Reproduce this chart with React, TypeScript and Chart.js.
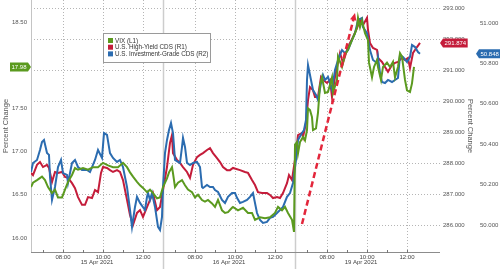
import React, { useEffect, useRef } from 'react';
import { Chart, registerables } from 'chart.js';

Chart.register(...registerables);

const FONT = "'Liberation Sans', Arial, sans-serif";
const GREEN = '#5b9a1f';
const RED = '#c41c3a';
const BLUE = '#2b6cb0';
const ARROW_RED = '#e3263b';

// Session clock: minutes of trading time since the start of the 15 Apr session
const dayLabels = ['15 Apr 2021', '16 Apr 2021', '19 Apr 2021'];
const dayStarts = [0, 396, 792];
const dayLength = 396;
const majorHourOffsets = [96, 216, 336];
const majorHourLabels = ['08:00', '10:00', '12:00'];
const minorHourOffsets = [36, 156, 276];

const legendLabels = ['VIX (L1)', 'U.S. High-Yield CDS (R1)', 'U.S. Investment-Grade CDS (R2)'];

const l1Range = [15.838, 18.755];
const r1Range = [285.129, 293.258];
const r2Range = [49.866, 51.114];

const vixTimes = [
  0, 6, 18, 33, 42, 51, 63, 72, 81, 93,
  102, 111, 123, 132, 141, 156, 171, 186, 201, 216,
  231, 246, 261, 276, 288, 297, 306, 318, 327, 336,
  348, 357, 366, 378, 387, 396, 408, 414, 423, 426,
  432, 441, 453, 462, 471, 483, 492, 501, 513, 522,
  531, 543, 552, 561, 573, 582, 591, 603, 606, 621,
  636, 651, 663, 672, 687, 702, 717, 732, 741, 753,
  762, 771, 783, 789, 792, 798, 801, 807, 816, 822,
  828, 831, 837, 843, 846, 855, 861, 867, 873, 882,
  891, 903, 906, 918, 921, 933, 942, 951, 963, 972,
  978, 981, 987, 993, 1002, 1011, 1014, 1023, 1029, 1038,
  1041, 1050, 1056, 1068, 1077, 1086, 1092, 1101, 1107, 1113,
  1122, 1128, 1137, 1143, 1149,
];
const vixValues = [
  16.59, 16.64, 16.67, 16.71, 16.67, 16.59, 16.52, 16.56, 16.47, 16.47,
  16.56, 16.65, 16.73, 16.81, 16.79, 16.81, 16.79, 16.82, 16.82, 16.87,
  16.84, 16.82, 16.82, 16.87, 16.82, 16.76, 16.71, 16.65, 16.61, 16.58,
  16.53, 16.56, 16.52, 16.46, 16.47, 16.59, 16.69, 16.76, 16.82, 16.75,
  16.59, 16.64, 16.67, 16.61, 16.56, 16.53, 16.47, 16.50, 16.44, 16.42,
  16.44, 16.40, 16.36, 16.44, 16.32, 16.29, 16.30, 16.35, 16.36, 16.32,
  16.35, 16.29, 16.29, 16.21, 16.24, 16.23, 16.24, 16.29, 16.36, 16.32,
  16.36, 16.29, 16.21, 16.07, 17.08, 17.11, 16.98, 17.11, 17.17, 17.13,
  17.25, 17.50, 17.48, 17.40, 17.25, 17.27, 17.45, 17.77, 17.86, 17.68,
  17.69, 17.86, 17.68, 17.83, 18.10, 17.98, 18.12, 18.18, 18.29, 18.37,
  18.44, 18.55, 18.44, 18.52, 18.37, 18.29, 18.03, 17.86, 17.98, 18.06,
  17.98, 17.83, 17.98, 18.03, 17.98, 18.04, 17.86, 17.98, 18.14, 18.10,
  17.83, 17.71, 17.69, 17.79, 17.98,
];

const hyTimes = [
  0, 6, 18, 27, 36, 48, 54, 63, 72, 81,
  93, 102, 111, 123, 132, 141, 153, 162, 171, 183,
  192, 201, 210, 216, 228, 237, 246, 258, 267, 276,
  288, 297, 306, 318, 327, 336, 348, 357, 366, 378,
  387, 396, 408, 417, 423, 426, 438, 447, 456, 468,
  477, 486, 498, 507, 516, 528, 537, 546, 558, 567,
  576, 588, 597, 606, 627, 642, 651, 663, 672, 681,
  693, 708, 717, 726, 738, 747, 756, 768, 774, 783,
  786, 795, 801, 813, 816, 825, 831, 837, 846, 852,
  861, 870, 876, 888, 897, 903, 912, 927, 936, 948,
  957, 966, 978, 987, 996, 1008, 1011, 1017, 1026, 1038,
  1041, 1053, 1062, 1071, 1083, 1092, 1101, 1113, 1122, 1131,
  1137, 1146, 1158, 1167,
];
const hyValues = [
  287.68, 287.61, 287.94, 288.03, 287.87, 287.94, 287.84, 287.39, 287.71, 287.68,
  287.71, 287.55, 287.52, 287.35, 287.19, 286.90, 286.65, 286.65, 286.90, 286.87,
  287.13, 287.06, 287.68, 287.87, 287.84, 287.77, 287.71, 287.77, 287.71, 287.45,
  286.81, 286.32, 286.00, 286.39, 286.48, 286.26, 286.58, 286.81, 287.03, 286.48,
  286.58, 287.13, 287.87, 288.65, 288.90, 288.32, 288.10, 288.00, 287.87, 287.71,
  287.52, 287.94, 288.19, 288.26, 288.32, 288.42, 288.48, 288.32, 288.16, 288.03,
  287.87, 287.77, 287.77, 287.84, 287.77, 287.71, 287.68, 287.45, 287.29, 287.06,
  287.03, 287.03, 286.97, 286.87, 286.90, 286.87, 287.03, 287.35, 287.61, 287.45,
  287.68, 288.32, 288.90, 288.97, 288.84, 289.29, 290.03, 290.45, 290.35, 290.13,
  290.13, 290.77, 290.68, 290.58, 290.68, 290.13, 290.77, 291.55, 291.23, 291.65,
  291.87, 292.06, 292.35, 292.61, 292.45, 292.68, 292.29, 291.87, 291.71, 291.65,
  291.39, 291.26, 291.10, 290.94, 291.16, 291.23, 291.26, 291.39, 291.32, 291.39,
  291.06, 291.55, 291.74, 291.874,
];

const igTimes = [
  0, 6, 18, 27, 33, 39, 48, 54, 57, 63,
  72, 81, 90, 96, 108, 111, 123, 132, 141, 153,
  168, 177, 192, 201, 213, 219, 228, 237, 246, 258,
  267, 276, 288, 297, 303, 312, 318, 327, 342, 348,
  351, 357, 363, 372, 381, 387, 393, 396, 402, 408,
  414, 420, 426, 432, 441, 447, 453, 456, 462, 468,
  477, 486, 498, 507, 513, 516, 528, 537, 546, 552,
  561, 573, 582, 591, 603, 612, 618, 627, 636, 648,
  657, 666, 678, 687, 696, 708, 717, 726, 738, 747,
  756, 768, 777, 786, 795, 801, 813, 819, 825, 828,
  831, 840, 846, 855, 861, 870, 876, 882, 891, 903,
  912, 921, 933, 942, 951, 963, 972, 981, 993, 996,
  1008, 1017, 1026, 1038, 1041, 1047, 1053, 1062, 1071, 1083,
  1092, 1101, 1107, 1116, 1128, 1137, 1143, 1152, 1161, 1167,
];
const igValues = [
  50.262, 50.307, 50.322, 50.371, 50.411, 50.421, 50.356, 50.347, 50.238, 50.124,
  50.188, 50.287, 50.322, 50.257, 50.248, 50.208, 50.307, 50.322, 50.287, 50.272,
  50.272, 50.262, 50.322, 50.371, 50.332, 50.455, 50.446, 50.356, 50.332, 50.312,
  50.322, 50.287, 50.188, 50.074, 49.990, 50.089, 50.139, 50.109, 50.074, 50.139,
  50.158, 50.124, 50.158, 50.089, 49.990, 49.975, 50.040, 50.188, 50.356, 50.421,
  50.470, 50.505, 50.455, 50.322, 50.312, 50.307, 50.386, 50.431, 50.386, 50.307,
  50.297, 50.307, 50.312, 50.287, 50.188, 50.183, 50.198, 50.188, 50.188, 50.173,
  50.163, 50.124, 50.109, 50.139, 50.158, 50.158, 50.134, 50.109, 50.114, 50.124,
  50.139, 50.158, 50.059, 50.025, 50.010, 50.015, 50.035, 50.040, 50.059, 50.074,
  50.089, 50.139, 50.158, 50.208, 50.322, 50.421, 50.455, 50.470, 50.520, 50.718,
  50.792, 50.718, 50.668, 50.644, 50.619, 50.703, 50.743, 50.718, 50.733, 50.668,
  50.767, 50.817, 50.866, 50.851, 50.866, 50.916, 50.950, 51.015, 51.025, 50.980,
  50.950, 50.866, 50.817, 50.802, 50.832, 50.752, 50.708, 50.703, 50.718, 50.708,
  50.718, 50.728, 50.842, 50.832, 50.807, 50.832, 50.891, 50.881, 50.856, 50.848,
];

// Annotation arrow in (session minutes, R1 value) coordinates
const arrowStart = { x: 813, y: 286.03 };
const arrowEnd = { x: 972, y: 292.84 };

const majorTicks: { value: number; label: string }[] = [];
dayStarts.forEach((d) => {
  majorHourOffsets.forEach((o, i) => majorTicks.push({ value: d + o, label: majorHourLabels[i] }));
});
const minorTicks: number[] = [];
dayStarts.forEach((d) => minorHourOffsets.forEach((o) => minorTicks.push(d + o)));

const toXY = (t: number[], v: number[]) => t.map((x, i) => ({ x, y: v[i] }));

function drawTag(ctx: CanvasRenderingContext2D, text: string, color: string, y: number, tipX: number, side: 'left' | 'right') {
  ctx.save();
  ctx.font = `6px ${FONT}`;
  const w = ctx.measureText(text).width + 3;
  const h = 9;
  const notch = 3;
  ctx.beginPath();
  let cx;
  if (side === 'right') {
    ctx.moveTo(tipX, y);
    ctx.lineTo(tipX + notch, y - h / 2);
    ctx.lineTo(tipX + notch + w, y - h / 2);
    ctx.lineTo(tipX + notch + w, y + h / 2);
    ctx.lineTo(tipX + notch, y + h / 2);
    cx = tipX + notch + w / 2;
  } else {
    ctx.moveTo(tipX, y);
    ctx.lineTo(tipX - notch, y - h / 2);
    ctx.lineTo(tipX - notch - w, y - h / 2);
    ctx.lineTo(tipX - notch - w, y + h / 2);
    ctx.lineTo(tipX - notch, y + h / 2);
    cx = tipX - notch - w / 2;
  }
  ctx.closePath();
  ctx.fillStyle = color;
  ctx.fill();
  ctx.fillStyle = '#ffffff';
  ctx.textAlign = 'center';
  ctx.textBaseline = 'middle';
  ctx.fillText(text, cx, y + 0.5);
  ctx.restore();
}

const overlayPlugin = {
  id: 'overlay',
  beforeDatasetsDraw(chart: any) {
    const { ctx, chartArea: a, scales } = chart;
    const xs = scales.x;
    const r1 = scales.r1;
    ctx.save();
    ctx.lineWidth = 1;
    ctx.strokeStyle = '#b5b5b5';
    ctx.setLineDash([1, 2]);
    r1.ticks.forEach((t: any) => {
      const y = Math.round(r1.getPixelForValue(t.value)) + 0.5;
      ctx.beginPath();
      ctx.moveTo(a.left, y);
      ctx.lineTo(a.right, y);
      ctx.stroke();
    });
    majorTicks.forEach((t) => {
      const x = Math.round(xs.getPixelForValue(t.value)) + 0.5;
      ctx.beginPath();
      ctx.moveTo(x, a.top);
      ctx.lineTo(x, a.bottom);
      ctx.stroke();
    });
    ctx.setLineDash([]);
    // day separators
    ctx.strokeStyle = '#cdcdcd';
    ctx.lineWidth = 1.5;
    dayStarts.slice(1).forEach((d) => {
      const x = Math.round(xs.getPixelForValue(d)) + 0.5;
      ctx.beginPath();
      ctx.moveTo(x, 0);
      ctx.lineTo(x, chart.height);
      ctx.stroke();
    });
    // axis lines
    ctx.lineWidth = 1;
    ctx.strokeStyle = '#c4c4c4';
    ctx.beginPath();
    ctx.moveTo(a.left + 0.5, a.top);
    ctx.lineTo(a.left + 0.5, a.bottom);
    ctx.stroke();
    ctx.strokeStyle = '#8c8c8c';
    ctx.beginPath();
    ctx.moveTo(a.left, a.bottom + 0.5);
    ctx.lineTo(a.right, a.bottom + 0.5);
    ctx.stroke();
    // tick marks
    ctx.strokeStyle = '#777';
    [...minorTicks, ...majorTicks.map((t) => t.value)].forEach((v) => {
      const x = Math.round(xs.getPixelForValue(v)) + 0.5;
      ctx.beginPath();
      ctx.moveTo(x, a.bottom - 2);
      ctx.lineTo(x, a.bottom + 1);
      ctx.stroke();
    });
    ctx.restore();
  },
  afterDatasetsDraw(chart: any) {
    const { ctx, chartArea: a, scales } = chart;
    const xs = scales.x;
    const r1 = scales.r1;
    ctx.save();
    // dashed arrow
    const sx = xs.getPixelForValue(arrowStart.x);
    const sy = r1.getPixelForValue(arrowStart.y);
    const ex = xs.getPixelForValue(arrowEnd.x);
    const ey = r1.getPixelForValue(arrowEnd.y);
    const ang = Math.atan2(ey - sy, ex - sx);
    const head = 8;
    ctx.strokeStyle = ARROW_RED;
    ctx.fillStyle = ARROW_RED;
    ctx.lineWidth = 2.5;
    ctx.setLineDash([6, 3.5]);
    ctx.beginPath();
    ctx.moveTo(sx, sy);
    ctx.lineTo(ex - Math.cos(ang) * head * 0.8, ey - Math.sin(ang) * head * 0.8);
    ctx.stroke();
    ctx.setLineDash([]);
    ctx.beginPath();
    ctx.moveTo(ex, ey);
    ctx.lineTo(ex - head * Math.cos(ang - 0.42), ey - head * Math.sin(ang - 0.42));
    ctx.lineTo(ex - head * Math.cos(ang + 0.42), ey - head * Math.sin(ang + 0.42));
    ctx.closePath();
    ctx.fill();

    // legend box
    const lx = a.left + 72;
    const ly = a.top + 33;
    const lw = 107;
    const lh = 29;
    ctx.fillStyle = '#ffffff';
    ctx.fillRect(lx, ly, lw, lh);
    ctx.strokeStyle = '#9a9a9a';
    ctx.lineWidth = 1;
    ctx.strokeRect(lx + 0.5, ly + 0.5, lw, lh);
    const colors = [GREEN, RED, BLUE];
    ctx.font = `6.3px ${FONT}`;
    ctx.textBaseline = 'middle';
    ctx.textAlign = 'left';
    legendLabels.forEach((label, i) => {
      const yy = ly + 7.5 + i * 6.7;
      ctx.fillStyle = colors[i];
      ctx.fillRect(lx + 5, yy - 2.5, 5, 5);
      ctx.fillStyle = '#333';
      ctx.fillText(label, lx + 12, yy + 0.3);
    });
    ctx.restore();
  },
  afterDraw(chart: any) {
    const { ctx, chartArea: a, scales } = chart;
    const xs = scales.x;
    ctx.save();
    // date labels
    ctx.font = `6px ${FONT}`;
    ctx.fillStyle = '#444';
    ctx.textAlign = 'center';
    ctx.textBaseline = 'middle';
    dayStarts.forEach((d, i) => {
      ctx.fillText(dayLabels[i], xs.getPixelForValue(d + dayLength / 2), a.bottom + 10.5);
    });
    // last value tags
    const vLast = vixValues[vixValues.length - 1];
    const hLast = hyValues[hyValues.length - 1];
    const gLast = igValues[igValues.length - 1];
    drawTag(ctx, vLast.toFixed(2), GREEN, scales.y.getPixelForValue(vLast), a.left, 'left');
    drawTag(ctx, hLast.toFixed(3), RED, scales.r1.getPixelForValue(hLast), a.right, 'right');
    drawTag(ctx, gLast.toFixed(3), BLUE, scales.r2.getPixelForValue(gLast), scales.r2.left + 1, 'right');
    ctx.restore();
  },
};

function fixSize(prop: 'width' | 'height', size: number) {
  return (scale: any) => {
    scale[prop] = size;
    scale.paddingTop = 0;
    scale.paddingBottom = 0;
    scale.paddingLeft = 0;
    scale.paddingRight = 0;
  };
}

const tickFont = { size: 6, family: FONT };

export default function App() {
  const ref = useRef<HTMLCanvasElement | null>(null);
  useEffect(() => {
    if (!ref.current) return;
    const chart = new Chart(ref.current, {
      type: 'line',
      data: {
        datasets: [
          {
            label: legendLabels[0],
            data: toXY(vixTimes, vixValues),
            borderColor: GREEN,
            yAxisID: 'y',
            borderWidth: 2,
            pointRadius: 0,
            tension: 0,
          },
          {
            label: legendLabels[2],
            data: toXY(igTimes, igValues),
            borderColor: BLUE,
            yAxisID: 'r2',
            borderWidth: 2,
            pointRadius: 0,
            tension: 0,
          },
          {
            label: legendLabels[1],
            data: toXY(hyTimes, hyValues),
            borderColor: RED,
            yAxisID: 'r1',
            borderWidth: 2,
            pointRadius: 0,
            tension: 0,
          },
        ],
      },
      options: {
        responsive: false,
        maintainAspectRatio: false,
        animation: false,
        devicePixelRatio: 1,
        layout: { padding: 0 },
        plugins: { legend: { display: false }, tooltip: { enabled: false } },
        scales: {
          x: {
            type: 'linear',
            position: 'bottom',
            min: 0,
            max: 1227,
            grid: { display: false, drawTicks: false },
            border: { display: false },
            afterBuildTicks: (scale: any) => {
              scale.ticks = majorTicks.map((t) => ({ value: t.value }));
            },
            afterFit: fixSize('height', 17),
            ticks: {
              autoSkip: false,
              maxRotation: 0,
              padding: 1.5,
              font: tickFont,
              color: '#444',
              callback: (v: any) => {
                const t = majorTicks.find((m) => m.value === v);
                return t ? t.label : '';
              },
            },
          },
          y: {
            type: 'linear',
            position: 'left',
            min: l1Range[0],
            max: l1Range[1],
            grid: { display: false, drawTicks: false },
            border: { display: false },
            afterFit: fixSize('width', 31),
            ticks: {
              stepSize: 0.5,
              includeBounds: false,
              padding: 4,
              font: tickFont,
              color: '#555',
              callback: (v: any) => Number(v).toFixed(2),
            },
            title: {
              display: true,
              text: 'Percent Change',
              font: { size: 7.5, family: FONT },
              color: '#555',
              padding: { top: 1.5, bottom: 0 },
            },
          },
          r1: {
            type: 'linear',
            position: 'right',
            weight: 0,
            min: r1Range[0],
            max: r1Range[1],
            grid: { display: false, drawTicks: false },
            border: { display: false },
            afterFit: fixSize('width', 35),
            ticks: {
              stepSize: 1,
              includeBounds: false,
              padding: 3,
              font: tickFont,
              color: '#555',
              callback: (v: any) => Number(v).toFixed(3),
            },
            title: {
              display: true,
              text: 'Percent Change',
              font: { size: 7.5, family: FONT },
              color: '#555',
              padding: { top: 0.5, bottom: 0 },
            },
          },
          r2: {
            type: 'linear',
            position: 'right',
            weight: 1,
            min: r2Range[0],
            max: r2Range[1],
            grid: { display: false, drawTicks: false },
            border: { display: false },
            afterFit: fixSize('width', 25),
            ticks: {
              stepSize: 0.2,
              includeBounds: false,
              padding: 5,
              font: tickFont,
              color: '#555',
              callback: (v: any) => Number(v).toFixed(3),
            },
          },
        },
      },
      plugins: [overlayPlugin],
    } as any);
    return () => chart.destroy();
  }, []);
  return (
    <div style={{ position: 'fixed', left: 0, top: 0, width: 500, height: 269, background: '#fff' }}>
      <canvas ref={ref} width={500} height={269} style={{ display: 'block' }} />
    </div>
  );
}
